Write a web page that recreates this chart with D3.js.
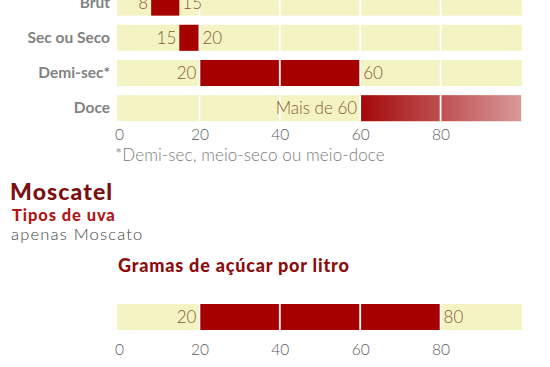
<!DOCTYPE html>
<html><head><meta charset="utf-8">
<script src="https://cdn.jsdelivr.net/npm/d3@7"></script>
<style>body{margin:0;background:#fff}svg{display:block}text{font-family:Lato,"Open Sans",sans-serif}</style>
</head><body>
<script>
const categories = ["Brut", "Sec ou Seco", "Demi-sec*", "Doce"];
const rangeStart = [8, 15, 20, 60];
const rangeEnd = [15, 20, 60, 100];
const leftLabels = ["8", "15", "20", "Mais de 60"];
const rightLabels = ["15", "20", "60", ""];
const openEnded = [false, false, false, true];
const tickValues = [0, 20, 40, 60, 80];
const gridValues = [20, 40, 60, 80];
const moscatelStart = [20];
const moscatelEnd = [80];
const footnote = "*Demi-sec, meio-seco ou meio-doce";

const W = 550, H = 367;
const bg = "#f3f3c4", red = "#a60000", numCol = "#8a5a30", gray = "#828282", tickCol = "#5a5a5a";

const svg = d3.select("body").append("svg").attr("width", W).attr("height", H);
const defs = svg.append("defs");
const grad = defs.append("linearGradient").attr("id", "fade").attr("x1", "0").attr("x2", "1").attr("y1", "0").attr("y2", "0");
grad.append("stop").attr("offset", "0%").attr("stop-color", "#a50708");
grad.append("stop").attr("offset", "100%").attr("stop-color", "#d99898");

const x = d3.scaleLinear().domain([0, 100]).range([119, 521]);
const y = d3.scaleBand().domain(categories).range([-15, 125.8]).paddingInner(0.26).paddingOuter(0.13);
const bw = y.bandwidth();

const rows = categories.map((c, i) => ({c, s: rangeStart[i], e: rangeEnd[i], l: leftLabels[i], r: rightLabels[i], open: openEnded[i]}));

const g = svg.append("g");
g.selectAll("rect.bg").data(rows).join("rect").attr("class", "bg")
  .attr("x", x(0) - 2).attr("width", x(100) - x(0) + 3)
  .attr("y", d => y(d.c)).attr("height", bw).attr("fill", bg);
g.selectAll("rect.bar").data(rows).join("rect").attr("class", "bar")
  .attr("x", d => x(d.s)).attr("width", d => x(d.e) - x(d.s))
  .attr("y", d => y(d.c)).attr("height", bw)
  .attr("fill", d => d.open ? "url(#fade)" : red);
g.selectAll("line.grid").data(rows.flatMap(r => gridValues.map(v => ({c: r.c, v})))).join("line")
  .attr("x1", d => x(d.v)).attr("x2", d => x(d.v))
  .attr("y1", d => y(d.c)).attr("y2", d => y(d.c) + bw)
  .attr("stroke", "#fff").attr("stroke-width", 1.8);
g.selectAll("text.cat").data(rows).join("text")
  .attr("x", 110).attr("y", d => y(d.c) + bw / 2 + 5)
  .attr("text-anchor", "end").attr("font-weight", 700).attr("font-size", 15.5)
  .attr("fill", gray).text(d => d.c);
g.selectAll("text.l").data(rows).join("text")
  .attr("x", d => x(d.s) - 3).attr("y", d => y(d.c) + bw / 2 + 6)
  .attr("text-anchor", "end").attr("font-weight", 300).attr("font-size", 17)
  .attr("fill", numCol).text(d => d.l);
g.selectAll("text.r").data(rows).join("text")
  .attr("x", d => x(d.e) + 3).attr("y", d => y(d.c) + bw / 2 + 6)
  .attr("text-anchor", "start").attr("font-weight", 300).attr("font-size", 17)
  .attr("fill", numCol).text(d => d.r);

function axis(yy) {
  const a = d3.axisBottom(x).tickValues(tickValues).tickSize(0).tickPadding(0);
  const ag = svg.append("g").attr("transform", `translate(0,${yy})`).call(a);
  ag.select(".domain").remove();
  ag.selectAll("text").attr("font-family", "Lato, sans-serif").attr("font-weight", 300)
    .attr("font-size", 15.5).attr("fill", tickCol).attr("dy", 0).attr("y", 0);
}
axis(140);

svg.append("text").attr("x", 115).attr("y", 161).attr("font-size", 17).attr("font-weight", 300)
  .attr("letter-spacing", 0.1).attr("fill", "#7a7a7a").text(footnote);

svg.append("text").attr("x", 10).attr("y", 200).attr("font-size", 23).attr("font-weight", 900)
  .attr("letter-spacing", 1.1).attr("fill", "#7c0f0f").text("Moscatel");
svg.append("text").attr("x", 12).attr("y", 221).attr("font-size", 16.5).attr("font-weight", 900)
  .attr("letter-spacing", 0.9).attr("fill", "#b01818").text("Tipos de uva");
svg.append("text").attr("x", 11).attr("y", 240).attr("font-size", 16.5).attr("font-weight", 300)
  .attr("letter-spacing", 1.2).attr("fill", "#444").text("apenas Moscato");
svg.append("text").attr("x", 118).attr("y", 272).attr("font-size", 18).attr("font-weight", 900)
  .attr("letter-spacing", 0.8).attr("fill", "#8c0c0c").text("Gramas de açúcar por litro");

const my = 304, mh = 26;
svg.append("rect").attr("x", x(0) - 2).attr("width", x(100) - x(0) + 3).attr("y", my).attr("height", mh).attr("fill", bg);
svg.selectAll("rect.mb").data(moscatelStart).join("rect").attr("class", "mb")
  .attr("x", (d, i) => x(d)).attr("width", (d, i) => x(moscatelEnd[i]) - x(d))
  .attr("y", my).attr("height", mh).attr("fill", red);
svg.selectAll("line.mg").data(gridValues).join("line").attr("class", "mg")
  .attr("x1", d => x(d)).attr("x2", d => x(d)).attr("y1", my).attr("y2", my + mh)
  .attr("stroke", "#fff").attr("stroke-width", 1.8);
svg.selectAll("text.ml").data(moscatelStart).join("text").attr("class", "ml")
  .attr("x", d => x(d) - 3).attr("y", my + mh / 2 + 6).attr("text-anchor", "end")
  .attr("font-weight", 300).attr("font-size", 17).attr("fill", numCol).text(d => d);
svg.selectAll("text.mr").data(moscatelEnd).join("text").attr("class", "mr")
  .attr("x", d => x(d) + 3).attr("y", my + mh / 2 + 6).attr("text-anchor", "start")
  .attr("font-weight", 300).attr("font-size", 17).attr("fill", numCol).text(d => d);
axis(355);
</script>
</body></html>
